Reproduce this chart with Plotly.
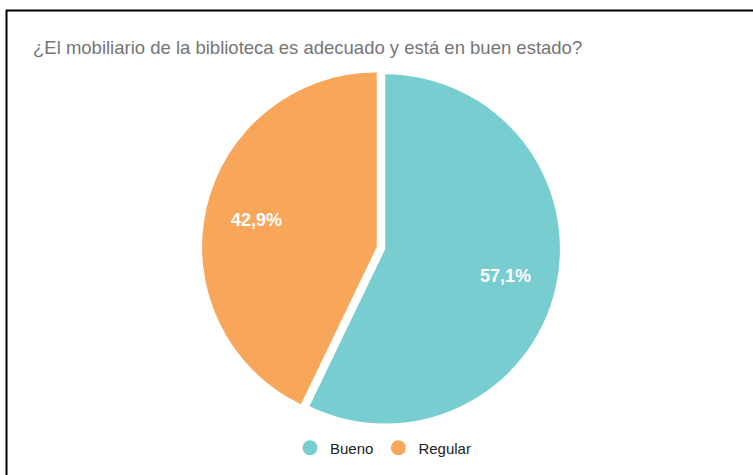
import math
import plotly.graph_objects as go

categories = ["Bueno", "Regular"]
values = [4, 3]
colors = ["#78CDD0", "#F7A65A"]
title_text = "¿El mobiliario de la biblioteca es adecuado y está en buen estado?"

W, H = 753, 475


def px(x):
    return x / W


def py(y):
    return 1 - y / H


cx, cy, R = 381, 248, 179
PULL = 0.025
LABEL_R = 0.73

fig = go.Figure()
fig.add_trace(go.Pie(
    labels=categories,
    values=values,
    marker=dict(colors=colors, line=dict(color="white", width=0)),
    pull=[PULL] * len(values),
    sort=False,
    direction="clockwise",
    rotation=0,
    textinfo="none",
    showlegend=False,
    hoverinfo="label+percent",
    domain=dict(x=[px(cx - R), px(cx + R)], y=[py(cy + R), py(cy - R)]),
))

# percentage labels placed along each slice's mid-angle
total = sum(values)
annotations = []
cum = 0
r_in = R / (1 + PULL)
for v in values:
    mid = (cum + v / 2) / total * 2 * math.pi
    cum += v
    dist = r_in * LABEL_R
    lx = cx + dist * math.sin(mid)
    ly = cy - dist * math.cos(mid)
    pct = f"{v / total * 100:.1f}".replace(".", ",") + "%"
    annotations.append(dict(
        x=px(lx), y=py(ly), xref="paper", yref="paper", text=pct, showarrow=False,
        xanchor="center", yanchor="middle",
        font=dict(family="Liberation Sans, Arial", size=18, color="white", weight="bold"),
    ))

for name, col in zip(categories, colors):
    fig.add_trace(go.Scatter(
        x=[None], y=[None], mode="markers", name=name,
        marker=dict(symbol="circle", size=15, color=col),
        showlegend=True, hoverinfo="skip",
    ))

fig.update_layout(
    width=W, height=H,
    margin=dict(l=0, r=0, t=0, b=0),
    paper_bgcolor="white", plot_bgcolor="white",
    separators=",.",
    font=dict(family="Liberation Sans, Arial", color="#222222"),
    title=dict(
        text=title_text, x=px(33), y=py(48), xanchor="left", yanchor="middle",
        font=dict(family="Liberation Sans, Arial", size=18.5, color="#757575"),
    ),
    xaxis=dict(visible=False), yaxis=dict(visible=False),
    legend=dict(
        orientation="h", x=px(383), y=py(448), xanchor="center", yanchor="middle",
        font=dict(family="Liberation Sans, Arial", size=15, color="#222222"),
        bgcolor="rgba(0,0,0,0)",
    ),
    annotations=annotations,
    shapes=[
        dict(type="line", xref="paper", yref="paper", x0=px(6), x1=1.0, y0=py(10.5), y1=py(10.5),
             line=dict(color="black", width=2)),
        dict(type="line", xref="paper", yref="paper", x0=px(6.5), x1=px(6.5), y0=0, y1=py(10),
             line=dict(color="black", width=2)),
    ],
)

fig.write_html(
    "out.html",
    config={"displayModeBar": False},
    post_script="document.body.style.margin='0px';document.body.style.overflow='hidden';",
)
